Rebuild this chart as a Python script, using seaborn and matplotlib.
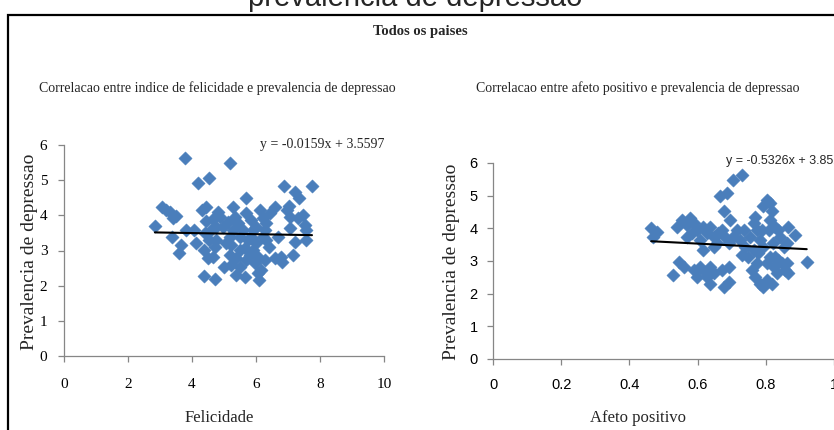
"""
Recreate the 'Todos os paises' scatter panels (Excel-style) with seaborn.
"""

import numpy as np
import pandas as pd
import seaborn as sns
import matplotlib.pyplot as plt
from matplotlib.patches import Rectangle

# Felicidade vs prevalencia de depressao
felicidade = [3.79, 5.18, 4.19, 4.53, 5.68, 6.88, 7.75, 7.21, 7.33, 2.84,
              3.07, 3.20, 3.32, 3.41, 3.49, 3.39, 3.67, 3.59, 4.05, 4.13,
              4.36, 4.71, 4.32, 4.43, 4.81, 4.66, 4.76, 4.40, 4.53, 4.71,
              4.36, 4.50, 4.66, 4.97, 5.13, 5.28, 5.34, 5.18, 5.23, 5.01,
              5.23, 5.18, 5.39, 5.39, 5.49, 5.65, 5.49, 5.60, 5.75, 5.82,
              5.70, 5.85, 5.91, 6.01, 6.06, 6.09, 6.06, 6.17, 6.14, 6.22,
              6.27, 6.32, 6.27, 6.41, 6.43, 6.58, 6.69, 6.58, 6.79, 6.82,
              6.97, 7.03, 7.07, 7.05, 7.15, 7.22, 7.31, 7.47, 7.52, 7.57,
              7.55, 3.82, 5.28, 5.44, 5.70, 4.86, 5.91, 4.76, 4.58, 4.45,
              5.65, 5.96, 6.32, 5.07, 5.85, 6.22, 6.01, 5.49]
depressao_fel = [5.62, 5.48, 4.91, 5.07, 4.48, 4.82, 4.82, 4.67, 4.48, 3.70,
                 4.23, 4.15, 4.10, 3.91, 3.98, 3.39, 3.16, 2.94, 3.58, 3.20,
                 2.27, 2.18, 4.15, 4.23, 4.10, 3.89, 3.68, 3.49, 3.30, 3.11,
                 3.01, 2.78, 2.82, 3.68, 3.82, 4.25, 3.96, 3.39, 3.16, 2.54,
                 2.59, 2.87, 2.78, 2.30, 2.54, 2.26, 3.01, 3.58, 3.30, 2.87,
                 2.73, 3.87, 3.58, 3.20, 2.82, 2.16, 2.35, 2.45, 4.15, 3.91,
                 3.58, 3.30, 2.73, 3.11, 4.06, 4.25, 3.39, 2.78, 2.82, 2.68,
                 4.15, 4.27, 3.96, 3.63, 2.87, 3.25, 3.91, 4.01, 3.73, 3.58,
                 3.30, 3.58, 3.58, 3.77, 4.06, 3.96, 3.01, 3.30, 3.58, 3.85,
                 3.06, 2.64, 3.77, 3.20, 3.39, 3.39, 3.68, 3.39]

# Afeto positivo vs prevalencia de depressao
afeto = [0.464, 0.481, 0.468, 0.529, 0.544, 0.559, 0.539, 0.554, 0.568, 0.578,
         0.588, 0.583, 0.568, 0.598, 0.608, 0.617, 0.627, 0.637, 0.647, 0.656,
         0.661, 0.671, 0.681, 0.691, 0.705, 0.695, 0.676, 0.666, 0.686, 0.705,
         0.730, 0.588, 0.598, 0.608, 0.622, 0.627, 0.637, 0.647, 0.637, 0.671,
         0.691, 0.676, 0.691, 0.617, 0.647, 0.715, 0.725, 0.735, 0.739, 0.730,
         0.749, 0.754, 0.764, 0.774, 0.769, 0.783, 0.788, 0.764, 0.759, 0.774,
         0.769, 0.783, 0.793, 0.803, 0.817, 0.803, 0.813, 0.823, 0.832, 0.827,
         0.837, 0.847, 0.857, 0.862, 0.866, 0.793, 0.803, 0.813, 0.817, 0.813,
         0.808, 0.827, 0.837, 0.842, 0.822, 0.852, 0.866, 0.886, 0.920, 0.862,
         0.793, 0.778]
depressao_af = [4.00, 3.90, 3.75, 2.57, 2.98, 2.83, 4.05, 4.26, 4.11, 4.31,
                4.16, 3.85, 3.75, 3.95, 3.64, 4.05, 3.85, 4.05, 3.75, 3.54,
                3.85, 3.95, 3.75, 3.54, 3.75, 4.26, 4.52, 4.98, 5.08, 5.49,
                5.64, 2.72, 2.52, 2.83, 2.67, 2.52, 2.83, 2.62, 2.31, 2.72,
                2.83, 2.21, 2.37, 3.34, 3.44, 3.95, 3.64, 3.95, 3.44, 3.18,
                3.13, 3.75, 4.16, 3.95, 4.36, 3.64, 3.95, 3.34, 2.72, 2.93,
                2.52, 2.31, 2.21, 2.42, 2.31, 2.93, 3.13, 2.83, 2.62, 3.13,
                3.03, 2.93, 2.72, 2.93, 2.62, 4.67, 4.87, 4.77, 4.52, 4.26,
                3.95, 4.05, 3.95, 3.75, 3.54, 3.44, 4.05, 3.80, 2.98, 3.54,
                3.44, 3.23]

# trendline coefficients shown on the chart
trend_fel = (-0.0159, 3.5597)
trend_af = (-0.5326, 3.8523)

sns.set_style("ticks")
plt.rcParams["font.family"] = ["Liberation Serif", "DejaVu Serif"]
sans = ["Liberation Sans", "DejaVu Sans"]

BLUE = "#4a7ebb"
GREY = "#868686"

fig = plt.figure(figsize=(8.34, 4.30), dpi=100)

# outer chart border (runs past the right/bottom edge, like the cropped screenshot)
fig.patches.append(Rectangle((8 / 834, -0.1), 1.1, 1 - 15 / 430 + 0.1,
                             transform=fig.transFigure, fill=False,
                             edgecolor="black", linewidth=1.6))

fig.text(415 / 834, 1 - 6 / 430, "prevalencia de depressao", ha="center",
         va="baseline", fontsize=21, family=sans)
fig.text(420 / 834, 1 - 32 / 430, "Todos os paises", ha="center", va="center",
         fontsize=10.5, fontweight="bold")


def style_axes(ax, tick_font, tick_size):
    sns.despine(ax=ax)
    for side in ("left", "bottom"):
        ax.spines[side].set_color(GREY)
        ax.spines[side].set_linewidth(0.9)
    ax.tick_params(colors=GREY, length=4, width=0.9, labelcolor="black",
                   labelsize=tick_size)
    for lab in ax.get_xticklabels() + ax.get_yticklabels():
        lab.set_family(tick_font)


# left panel
ax1 = fig.add_axes([64 / 834, 1 - 356 / 430, 320 / 834, 211 / 430])
df1 = pd.DataFrame({"x": felicidade, "y": depressao_fel})
sns.scatterplot(data=df1, x="x", y="y", ax=ax1, marker="D", s=46,
                color=BLUE, edgecolor=BLUE, linewidth=0.3)
xs = np.array([min(felicidade), max(felicidade)])
ax1.plot(xs, trend_fel[0] * xs + trend_fel[1], color="black", lw=1.5)
ax1.set_xlim(0, 10)
ax1.set_ylim(0, 6)
ax1.set_xticks([0, 2, 4, 6, 8, 10])
ax1.set_yticks(range(7))
ax1.set_xlabel("")
ax1.set_ylabel("")
ax1.tick_params(axis="x", pad=12)
ax1.tick_params(axis="y", pad=8)
style_axes(ax1, ["Liberation Serif", "DejaVu Serif"], 11)
ax1.text(1.0, 1.0, "y = -0.0159x + 3.5597", transform=ax1.transAxes,
         ha="right", va="center", fontsize=10)

# right panel
ax2 = fig.add_axes([493 / 834, 1 - 359 / 430, 341 / 834, 196 / 430])
df2 = pd.DataFrame({"x": afeto, "y": depressao_af})
sns.scatterplot(data=df2, x="x", y="y", ax=ax2, marker="D", s=46,
                color=BLUE, edgecolor=BLUE, linewidth=0.3)
xs = np.array([min(afeto), max(afeto)])
ax2.plot(xs, trend_af[0] * xs + trend_af[1], color="black", lw=1.5)
ax2.set_xlim(0, 1)
ax2.set_ylim(0, 6)
ax2.set_xticks([0, 0.2, 0.4, 0.6, 0.8, 1.0])
ax2.set_xticklabels(["0", "0.2", "0.4", "0.6", "0.8", "1"])
ax2.set_yticks(range(7))
ax2.set_xlabel("")
ax2.set_ylabel("")
ax2.tick_params(axis="x", pad=10)
ax2.tick_params(axis="y", pad=7)
style_axes(ax2, sans, 10.5)
fig.text(726 / 834, 1 - 161 / 430, "y = -0.5326x + 3.8523", ha="left",
         va="center", fontsize=9, family=sans)

# titles and axis labels
fig.text(217 / 834, 1 - 88 / 430,
         "Correlacao entre indice de felicidade e prevalencia de depressao",
         ha="center", va="center", fontsize=10)
fig.text(638 / 834, 1 - 88 / 430,
         "Correlacao entre afeto positivo e prevalencia de depressao",
         ha="center", va="center", fontsize=10)
fig.text(30 / 834, 1 - 252 / 430, "Prevalencia de depressao", rotation=90,
         ha="center", va="center", fontsize=14)
fig.text(452 / 834, 1 - 262 / 430, "Prevalencia de depressao", rotation=90,
         ha="center", va="center", fontsize=14)
fig.text(219 / 834, 1 - 418 / 430, "Felicidade", ha="center", va="center",
         fontsize=12)
fig.text(638 / 834, 1 - 418 / 430, "Afeto positivo", ha="center", va="center",
         fontsize=12)

fig.savefig("out.png", dpi=100)
plt.close(fig)
